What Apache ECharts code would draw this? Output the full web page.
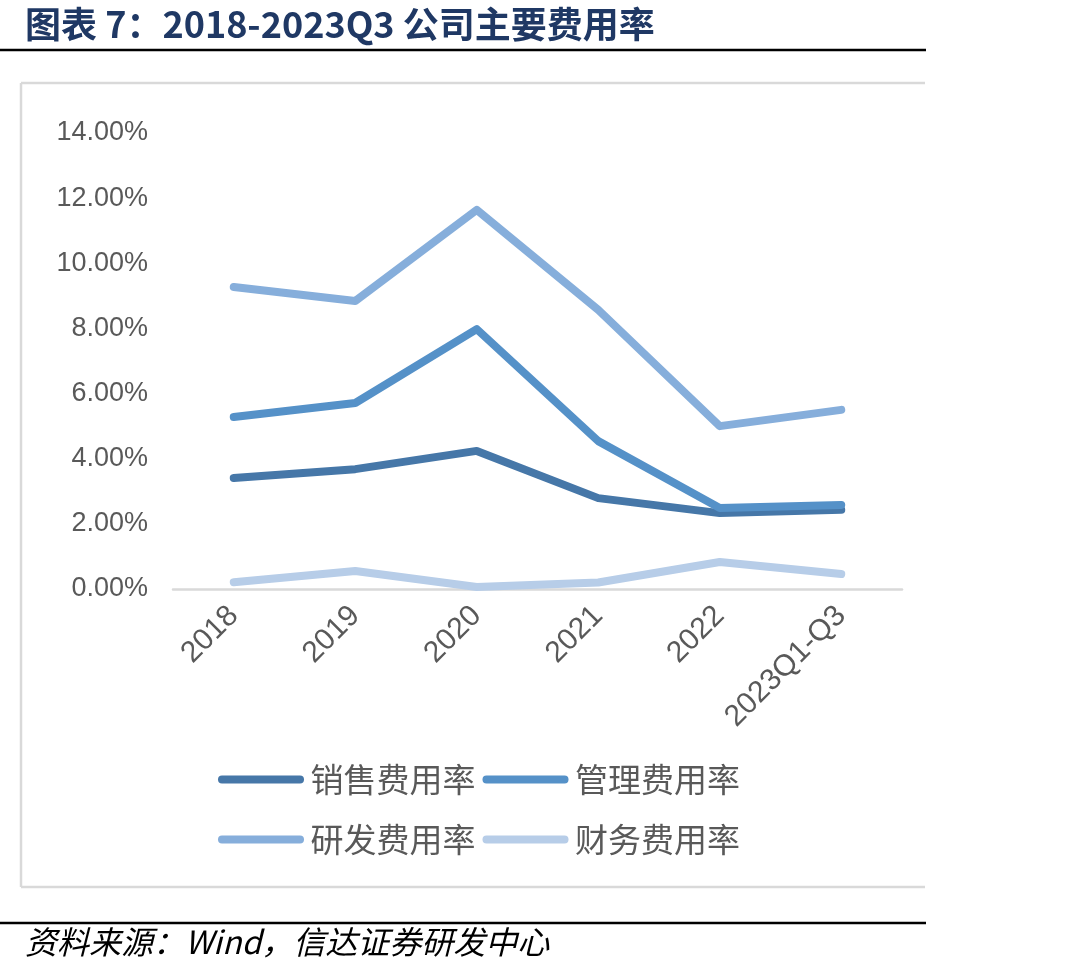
<!DOCTYPE html>
<html>
<head>
<meta charset="utf-8">
<script src="https://cdn.jsdelivr.net/npm/echarts@6/dist/echarts.min.js"></script>
<style>
  html, body { margin: 0; padding: 0; background: #fff; }
  #chart { width: 1080px; height: 977px; }
</style>
</head>
<body>
<div id="chart"></div>
<script>
// 2018-2023Q3 公司主要费用率（单位 %）
const categories = ["2018", "2019", "2020", "2021", "2022", "2023Q1-Q3"];
const seriesNames = ["销售费用率", "管理费用率", "研发费用率", "财务费用率"];
const salesRate = [3.41, 3.68, 4.24, 2.79, 2.33, 2.43];
const adminRate = [5.28, 5.71, 7.98, 4.54, 2.49, 2.58];
const rdRate = [9.27, 8.84, 11.64, 8.57, 5.0, 5.5];
const financeRate = [0.21, 0.55, 0.06, 0.2, 0.83, 0.46];
const yTicks = { min: 0, max: 14, interval: 2 };

const colors = ["#4677A8", "#5591C8", "#86AEDB", "#B7CDE8"];
const values = [salesRate, adminRate, rdRate, financeRate];
const pill = "path://M4,0 L82,0 A4,4 0 0 1 82,8 L4,8 A4,4 0 0 1 4,0 Z";
const grey = "#595959";

const legendBase = {
  left: 213,
  orient: "horizontal",
  icon: pill,
  itemWidth: 87,
  itemHeight: 8,
  itemGap: 7,
  textStyle: { fontSize: 33, color: grey, fontFamily: "Noto Sans CJK SC", padding: [0, 0, 0, 1] }
};

const option = {
  backgroundColor: "#fff",
  animation: false,
  color: colors,
  grid: { left: 173, right: 178, top: 133, bottom: 388, containLabel: false },
  legend: [
    Object.assign({}, legendBase, { top: 758, data: seriesNames.slice(0, 2) }),
    Object.assign({}, legendBase, { top: 818, data: seriesNames.slice(2, 4) })
  ],
  xAxis: {
    type: "category",
    data: categories,
    boundaryGap: true,
    axisLine: { lineStyle: { color: "#D9D9D9", width: 2.5 } },
    axisTick: { show: false },
    axisLabel: {
      interval: 0,
      rotate: 45,
      margin: 22,
      fontSize: 30,
      color: grey,
      fontFamily: "Liberation Sans"
    },
    splitLine: { show: false }
  },
  yAxis: {
    type: "value",
    min: yTicks.min,
    max: yTicks.max,
    interval: yTicks.interval,
    axisLine: { show: false },
    axisTick: { show: false },
    splitLine: { show: false },
    axisLabel: {
      margin: 25,
      fontSize: 27,
      color: grey,
      fontFamily: "Liberation Sans",
      formatter: function (v) { return v.toFixed(2) + "%"; }
    }
  },
  series: seriesNames.map(function (name, i) {
    return {
      name: name,
      type: "line",
      data: values[i],
      symbol: "none",
      smooth: false,
      lineStyle: { width: 8, color: colors[i], cap: "round", join: "round" },
      itemStyle: { color: colors[i] }
    };
  }),
  graphic: [
    {
      type: "text",
      left: 25,
      top: 6,
      style: {
        text: "图表 7：2018-2023Q3 公司主要费用率",
        font: "bold 36px 'Noto Sans CJK SC'",
        fill: "#1F3864"
      }
    },
    { type: "line", shape: { x1: 0, y1: 50, x2: 926, y2: 50 }, style: { stroke: "#000", lineWidth: 2.5 } },
    { type: "line", shape: { x1: 21, y1: 83, x2: 925, y2: 83 }, style: { stroke: "#D9D9D9", lineWidth: 2.5 } },
    { type: "line", shape: { x1: 21, y1: 83, x2: 21, y2: 887 }, style: { stroke: "#D9D9D9", lineWidth: 2.5 } },
    { type: "line", shape: { x1: 21, y1: 887, x2: 925, y2: 887 }, style: { stroke: "#D9D9D9", lineWidth: 2.5 } },
    { type: "line", shape: { x1: 0, y1: 923, x2: 926, y2: 923 }, style: { stroke: "#000", lineWidth: 2.5 } },
    {
      type: "text",
      left: 25,
      top: 926,
      style: {
        text: "资料来源：Wind，信达证券研发中心",
        font: "italic 32px 'Noto Sans CJK SC'",
        fill: "#000"
      }
    }
  ]
};

const myChart = echarts.init(document.getElementById("chart"), null, { renderer: "canvas" });
myChart.setOption(option);
</script>
</body>
</html>
